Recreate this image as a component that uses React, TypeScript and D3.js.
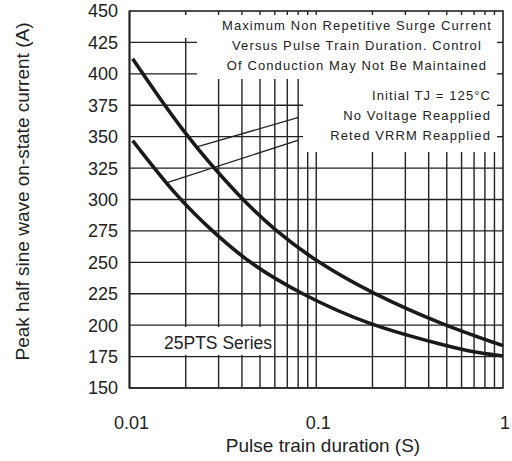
import React from "react";
import * as d3 from "d3";

// ---- data ----
const upperX = [0.0104, 0.02, 0.04, 0.06, 0.1, 0.2, 0.48, 1.0];
const upperY = [412, 350, 300, 275.5, 250.5, 225, 200, 183.7];
const lowerX = [0.0104, 0.0184, 0.0277, 0.043, 0.082, 0.19, 0.5, 0.69, 1.0];
const lowerY = [346.8, 300, 275, 250, 225, 200, 183.5, 178.5, 175.5];
// leader lines: [x1, y1, x2, y2]
const leaderA = [0.0232, 342, 0.0804, 365.4];
const leaderB = [0.0159, 313.5, 0.0804, 347.3];

const yTicks = [150, 175, 200, 225, 250, 275, 300, 325, 350, 375, 400, 425, 450];
const xMajor = [0.01, 0.1, 1];
const xMajorLabels = ["0.01", "0.1", "1"];
const xMinor = [0.02, 0.03, 0.04, 0.05, 0.06, 0.07, 0.08, 0.09, 0.1, 0.2, 0.3, 0.4, 0.5, 0.6, 0.7, 0.8, 0.9];
const hiddenRight = [350, 375, 400, 425];

const noteTop = [
  "Maximum Non Repetitive Surge Current",
  "Versus Pulse Train Duration. Control",
  "Of Conduction May Not Be Maintained",
];
const noteMid = ["Initial TJ = 125°C", "No Voltage Reapplied", "Reted VRRM Reapplied"];
const seriesLabel = "25PTS Series";
const xTitle = "Pulse train duration (S)";
const yTitle = "Peak half sine wave on-state current (A)";

// ---- layout ----
const W = 512, H = 461;
const L = 129.5, R = 503, T = 11, B = 388;
const FONT = "'Liberation Sans', Arial, Helvetica, sans-serif";
const INK = "#222";

export default function App() {
  const x = d3.scaleLog().domain([0.01, 1]).range([L, R]);
  const y = d3.scaleLinear().domain([150, 450]).range([B, T]);
  const line = d3
    .line<[number, number]>()
    .x((d) => x(d[0]))
    .y((d) => y(d[1]))
    .curve(d3.curveBasis);
  const up = upperX.map((v, i) => [v, upperY[i]] as [number, number]);
  const lo = lowerX.map((v, i) => [v, lowerY[i]] as [number, number]);

  const boxes = [
    { x0: L + 1.5, x1: 197, y0: T + 4, y1: 38 },
    { x0: 197, x1: R - 1, y0: T + 4, y1: 79 },
    { x0: 303, x1: R - 1, y0: 79, y1: 152 },
    { x0: L + 1.5, x1: 273, y0: 327, y1: 355 },
  ];

  return (
    <svg
      width={W}
      height={H}
      style={{ position: "absolute", left: 0, top: 0, background: "#fff" }}
      fontFamily={FONT}
    >
      <rect x={0} y={0} width={W} height={H} fill="#fff" />
      {/* grid */}
      <g stroke={INK} strokeWidth={1.4}>
        {yTicks.slice(1, -1).map((v) => (
          <line key={"h" + v} x1={L} x2={R} y1={y(v)} y2={y(v)} />
        ))}
        {xMinor.map((v) => (
          <line key={"v" + v} x1={x(v)} x2={x(v)} y1={T} y2={B} />
        ))}
      </g>
      {/* white note boxes */}
      {boxes.map((b, i) => (
        <rect key={"b" + i} x={b.x0} y={b.y0} width={b.x1 - b.x0} height={b.y1 - b.y0} fill="#fff" />
      ))}
      {/* right-edge ticks */}
      <g stroke={INK} strokeWidth={1.4}>
        {hiddenRight.map((v) => (
          <line key={"r" + v} x1={R - 6} x2={R} y1={y(v)} y2={y(v)} />
        ))}
      </g>
      {/* frame */}
      <rect x={L} y={T} width={R - L} height={B - T} fill="none" stroke={INK} strokeWidth={1.6} />
      <line x1={L} x2={R} y1={B} y2={B} stroke="#333" strokeWidth={2.2} />
      <line x1={L} x2={L} y1={T} y2={B} stroke={INK} strokeWidth={1.8} />
      {/* leader lines */}
      <g stroke={INK} strokeWidth={1.3}>
        {[leaderA, leaderB].map((d, i) => (
          <line key={"l" + i} x1={x(d[0])} y1={y(d[1])} x2={x(d[2])} y2={y(d[3])} />
        ))}
      </g>
      {/* curves */}
      <path d={line(up) || ""} fill="none" stroke="#1a1a1a" strokeWidth={3.6} />
      <path d={line(lo) || ""} fill="none" stroke="#1a1a1a" strokeWidth={3.6} />
      {/* tick labels */}
      <g fill={INK} fontSize={18}>
        {yTicks.map((v) => (
          <text key={"yl" + v} x={118} y={y(v)} dy="0.36em" textAnchor="end">
            {v}
          </text>
        ))}
        {xMajor.map((v, i) => (
          <text key={"xl" + v} x={x(v) + 2} y={429} textAnchor="middle">
            {xMajorLabels[i]}
          </text>
        ))}
      </g>
      {/* notes */}
      <g fill={INK} fontSize={13} letterSpacing={1.1}>
        {noteTop.map((t, i) => (
          <text key={"nt" + i} x={357} y={30 + i * 20} textAnchor="middle">
            {t}
          </text>
        ))}
        {noteMid.map((t, i) => (
          <text key={"nm" + i} x={491} y={100 + i * 20} textAnchor="end">
            {t}
          </text>
        ))}
      </g>
      <text x={272} y={349} fontSize={17.5} fill={INK} textAnchor="end">
        {seriesLabel}
      </text>
      {/* axis titles */}
      <text x={323} y={452} fontSize={19} fill={INK} textAnchor="middle">
        {xTitle}
      </text>
      <text
        transform={`translate(22, ${(T + B) / 2 - 8}) rotate(-90)`}
        fontSize={19}
        fill={INK}
        textAnchor="middle"
        dy="0.35em"
      >
        {yTitle}
      </text>
    </svg>
  );
}
